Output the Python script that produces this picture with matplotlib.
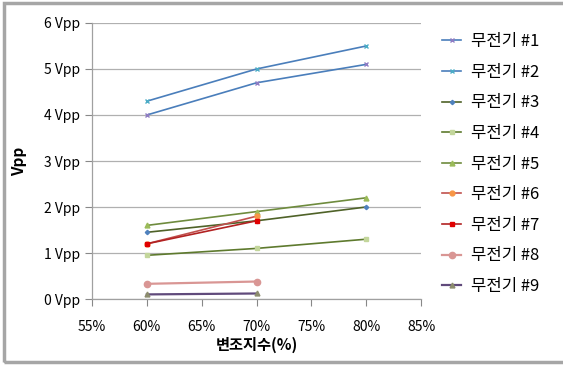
import matplotlib.pyplot as plt
from matplotlib.patches import Rectangle

plt.rcParams['font.family'] = ['Noto Sans CJK KR', 'DejaVu Sans']

# modulation index (%) and output amplitude (Vpp) per transmitter
mod_index = [60, 70, 80]
labels = ["무전기 #1", "무전기 #2", "무전기 #3", "무전기 #4", "무전기 #5",
          "무전기 #6", "무전기 #7", "무전기 #8", "무전기 #9"]
vpp_1 = [4.0, 4.7, 5.1]
vpp_2 = [4.3, 5.0, 5.5]
vpp_3 = [1.45, 1.7, 2.0]
vpp_4 = [0.95, 1.1, 1.3]
vpp_5 = [1.6, 1.9, 2.2]
vpp_6 = [1.2, 1.8]
vpp_7 = [1.2, 1.7]
vpp_8 = [0.33, 0.38]
vpp_9 = [0.1, 0.12]
series = [vpp_1, vpp_2, vpp_3, vpp_4, vpp_5, vpp_6, vpp_7, vpp_8, vpp_9]

# line colour, marker, marker colour, marker size, line width
styles = [
    ("#4A7EBB", "x", "#8E7CC3", 3.5, 1.2),
    ("#4A7EBB", "x", "#4BACC6", 3.5, 1.2),
    ("#4F6228", "D", "#4F81BD", 2.2, 1.2),
    ("#5E7A2E", "s", "#C3D69B", 3.2, 1.2),
    ("#6E8B3D", "^", "#9BBB59", 3.5, 1.2),
    ("#C0504D", "o", "#F79646", 3.5, 1.2),
    ("#B22222", "s", "#E00000", 2.2, 1.2),
    ("#D99694", "o", "#D99694", 4.5, 1.6),
    ("#604A7B", "^", "#8C8C6E", 3.5, 1.6),
]

fig = plt.figure(figsize=(5.63, 3.65), dpi=100)
ax = fig.add_axes([0.1634, 0.1808, 0.5844, 0.7562])

for vals, lab, (lc, mk, mc, ms, lw) in zip(series, labels, styles):
    ax.plot(mod_index[:len(vals)], vals, color=lc, lw=lw, marker=mk,
            markersize=ms, markerfacecolor=mc, markeredgecolor=mc,
            markeredgewidth=1.0, label=lab)

ax.set_xlim(55, 85)
ax.set_ylim(0, 6)
ax.set_xticks(range(55, 90, 5))
ax.set_xticklabels([f"{v}%" for v in range(55, 90, 5)])
ax.set_yticks(range(0, 7))
ax.set_yticklabels([f"{v} Vpp" for v in range(0, 7)])
ax.tick_params(axis='both', labelsize=10, colors="#888888", labelcolor="black",
               length=5, width=0.8)
ax.tick_params(axis='x', pad=10)
ax.grid(axis='y', color="#B0B0B0", lw=0.9)
ax.set_axisbelow(True)
for s in ("top", "right"):
    ax.spines[s].set_visible(False)
for s in ("left", "bottom"):
    ax.spines[s].set_color("#A0A0A0")
    ax.spines[s].set_linewidth(0.9)

ax.set_xlabel("변조지수(%)", fontsize=11, fontweight="bold", labelpad=2)
ax.set_ylabel("Vpp", fontsize=11, fontweight="bold", labelpad=12)

fig.legend(loc="upper left", bbox_to_anchor=(0.759, 0.95), frameon=False,
           fontsize=12, handlelength=1.15, labelspacing=0.815,
           handletextpad=0.6)

# chart frame
fig.patches.append(Rectangle((4 / 563, 3 / 365), 1.0, 359 / 365,
                             transform=fig.transFigure, fill=False,
                             edgecolor="#A6A6A6", lw=2.5))

fig.savefig("out.png", dpi=100)
